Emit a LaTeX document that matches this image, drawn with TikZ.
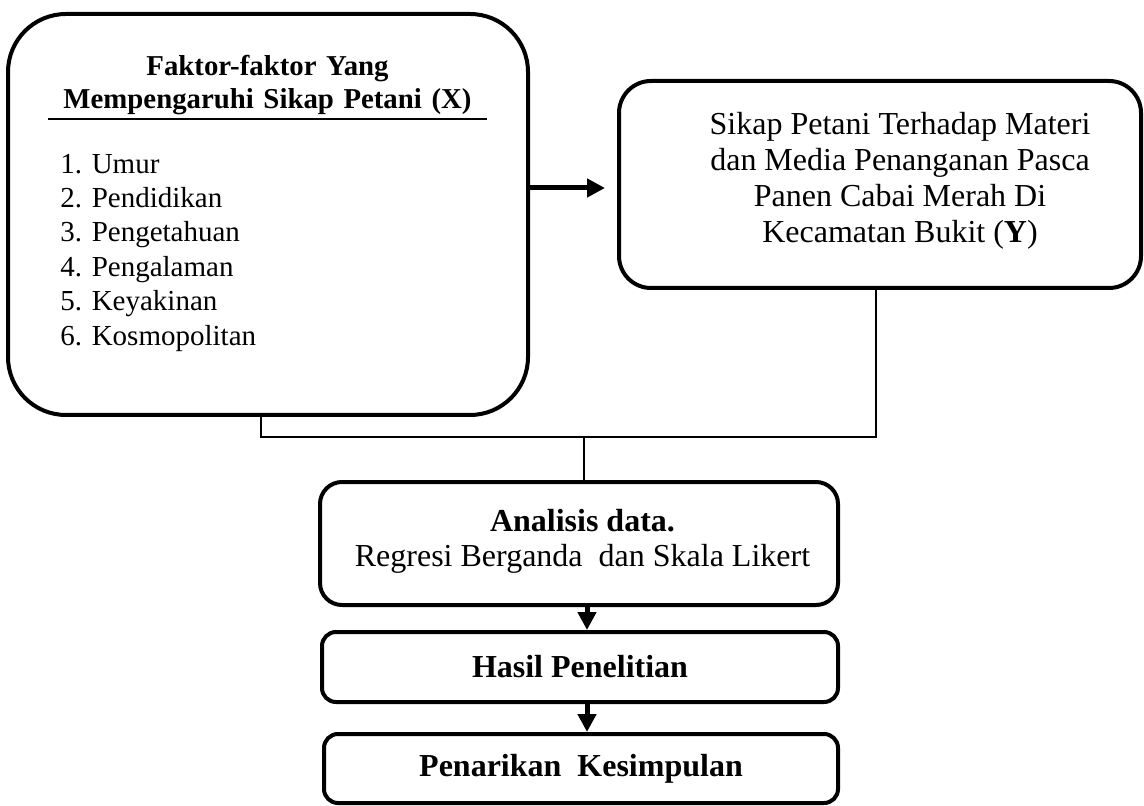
\documentclass[tikz,border=0pt]{standalone}
\usepackage{fontspec}
\setmainfont{Liberation Serif}
\usetikzlibrary{arrows.meta}

\begin{document}
\begin{tikzpicture}[x=0.5pt,y=-0.5pt,
      box/.style={draw,line width=2pt,rounded corners=#1,inner sep=0pt},
      box/.default=7pt,
      link/.style={line width=1pt},
      flow/.style={-{Triangle[length=9pt,width=9pt]},line width=2.5pt},
      bigtext/.style={font=\fontsize{16}{18}\selectfont},
      boldtext/.style={font=\bfseries\fontsize{16}{18}\selectfont},
      ]
      \useasboundingbox (0,0) rectangle (1144,806);

      % boxes
      \node (xbox) at (268,214.5) [box=29pt,minimum width=260pt,minimum height=200.5pt] {};
      \node (ybox) at (880,184.5) [box=16pt,minimum width=261pt,minimum height=103.5pt] {};
      \node (anal) at (579,543.5) [box=11pt,minimum width=259pt,minimum height=61.5pt] {};
      \node (hasil) at (580,667) [box,boldtext,minimum width=258pt,minimum height=35pt] {Hasil Penelitian};
      \node (tarik) at (581,768.5) [box,boldtext,minimum width=257pt,minimum height=34.5pt] {Penarikan~ Kesimpulan};

      % texts
      \node (xtitle) at (267.5,85.3) [align=center,text width=219.5pt,inner xsep=0pt,inner ysep=1.8pt,
        font=\bfseries\fontsize{14.4}{16.5}\selectfont] {Faktor-faktor Yang\\Mempengaruhi Sikap Petani (X)};
      \draw [line width=1pt] (xtitle.south west) -- (xtitle.south east);
      \node (xlist) at (60,153.5) [anchor=north west,align=left,inner sep=0pt,
        font=\fontsize{14.5}{17.2}\selectfont] {1. Umur\\2. Pendidikan\\3. Pengetahuan\\4. Pengalaman\\5. Keyakinan\\6. Kosmopolitan};
      \node (ytext) at (900,181) [align=center,bigtext] {Sikap Petani Terhadap Materi\\dan Media Penanganan Pasca\\Panen Cabai Merah Di\\Kecamatan Bukit (\textbf{Y})};
      \node (atext) at (582.5,541) [align=center,font=\fontsize{16}{17.5}\selectfont] {\textbf{Analisis data.}\\Regresi Berganda~ dan Skala Likert};

      % connectors
      \coordinate (hub) at (584,437);
      \coordinate (arrowrow) at (0,188);
      \coordinate (spine) at (587,0);
      \draw [link] ([xshift=-3.5pt]xbox.south) |- (hub) -| ([xshift=-2pt]ybox.south);
      \draw [link] (hub) -- (hub |- anal.north);
      \draw [flow] (xbox.east |- arrowrow) -- ([xshift=-6pt]ybox.west |- arrowrow);
      \draw [flow] (anal.south -| spine) -- (hasil.north -| spine);
      \draw [flow] (hasil.south -| spine) -- (tarik.north -| spine);
    \end{tikzpicture}
\end{document}
